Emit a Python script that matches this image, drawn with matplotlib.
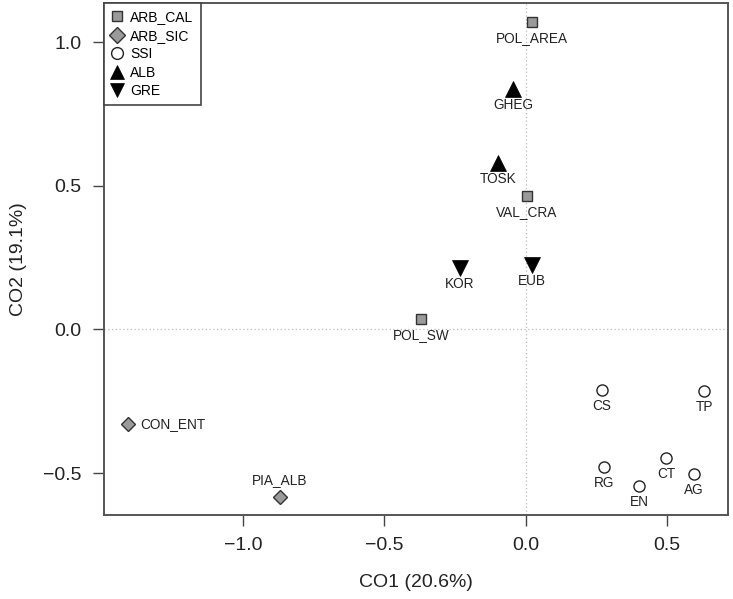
import matplotlib
matplotlib.use('Agg')
import matplotlib.pyplot as plt
from matplotlib.lines import Line2D

plt.rcParams['font.family'] = ['Liberation Sans', 'DejaVu Sans']

# ========== 数据 ==========
names = ['POL_AREA', 'VAL_CRA', 'POL_SW',
         'CON_ENT', 'PIA_ALB',
         'CS', 'TP', 'CT', 'RG', 'AG', 'EN',
         'GHEG', 'TOSK',
         'KOR', 'EUB']
groups = ['ARB_CAL', 'ARB_CAL', 'ARB_CAL',
          'ARB_SIC', 'ARB_SIC',
          'SSI', 'SSI', 'SSI', 'SSI', 'SSI', 'SSI',
          'ALB', 'ALB',
          'GRE', 'GRE']
co1 = [0.022, 0.004, -0.371,
       -1.409, -0.870,
       0.270, 0.633, 0.497, 0.279, 0.597, 0.402,
       -0.044, -0.097,
       -0.232, 0.022]
co2 = [1.071, 0.464, 0.036,
       -0.328, -0.583,
       -0.211, -0.213, -0.446, -0.479, -0.504, -0.546,
       0.835, 0.578,
       0.212, 0.224]
label_pos = ['below', 'below', 'below',
             'right', 'above',
             'below', 'below', 'below', 'below', 'below', 'below',
             'below', 'below',
             'below', 'below']

group_order = ['ARB_CAL', 'ARB_SIC', 'SSI', 'ALB', 'GRE']

# 每组的样式
styles = {
    'ARB_CAL': dict(marker='s', ms=7.2, mfc='#9a9a9a', mec='#333333', mew=1.0),
    'ARB_SIC': dict(marker='D', ms=7.4, mfc='#9a9a9a', mec='#333333', mew=1.0),
    'SSI':     dict(marker='o', ms=8.0, mfc='white', mec='#222222', mew=1.0),
    'ALB':     dict(marker='^', ms=11.0, mfc='black', mec='black', mew=0.5),
    'GRE':     dict(marker='v', ms=11.0, mfc='black', mec='black', mew=0.5),
}
# 图例里的标记稍小
legend_ms = {'ARB_CAL': 7.5, 'ARB_SIC': 8.0, 'SSI': 8.5, 'ALB': 10.0, 'GRE': 10.0}

# ========== 画图 ==========
fig = plt.figure(figsize=(7.33, 5.99), dpi=100)
ax = fig.add_axes([0.1419, 0.1402, 0.8513, 0.8548])

ax.axhline(0, color='#bbbbbb', linestyle=(0, (1, 2)), linewidth=0.9, zorder=0)
ax.axvline(0, color='#bbbbbb', linestyle=(0, (1, 2)), linewidth=0.9, zorder=0)

for g in group_order:
    xs = [x for x, gg in zip(co1, groups) if gg == g]
    ys = [y for y, gg in zip(co2, groups) if gg == g]
    ax.plot(xs, ys, linestyle='none', zorder=3, **styles[g])

offsets = {'below': ((0, -11.5), 'center', 'center'),
           'above': ((0, 12), 'center', 'center'),
           'right': ((9, 0), 'left', 'center')}
for n, x, y, p in zip(names, co1, co2, label_pos):
    off, ha, va = offsets[p]
    ax.annotate(n, xy=(x, y), xytext=off, textcoords='offset points',
                ha=ha, va=va, fontsize=9.8, color='#222222')

ax.set_xlim(-1.493, 0.717)
ax.set_ylim(-0.646, 1.136)
ax.set_xticks([-1.0, -0.5, 0.0, 0.5])
ax.set_yticks([-0.5, 0.0, 0.5, 1.0])
ax.set_xticklabels(['\u22121.0', '\u22120.5', '0.0', '0.5'])
ax.set_yticklabels(['\u22120.5', '0.0', '0.5', '1.0'])
ax.tick_params(direction='out', length=8, width=1.0, color='#444444',
               labelsize=14, pad=8, labelcolor='#222222')

for s in ax.spines.values():
    s.set_color('#555555')
    s.set_linewidth(1.4)

ax.set_xlabel('CO1 (20.6%)', fontsize=14, color='#222222', labelpad=14)
ax.set_ylabel('CO2 (19.1%)', fontsize=14, color='#222222', labelpad=12)

handles = []
for g in group_order:
    st = dict(styles[g])
    st['ms'] = legend_ms[g]
    handles.append(Line2D([], [], linestyle='none', **st))
leg = ax.legend(handles, group_order, loc='upper left', borderaxespad=0,
                fancybox=False, framealpha=1, edgecolor='#444444',
                fontsize=10, handlelength=0.8, handletextpad=0.6,
                labelspacing=0.33, borderpad=0.5)
leg.get_frame().set_linewidth(1.2)

fig.savefig('out.png', dpi=100)
